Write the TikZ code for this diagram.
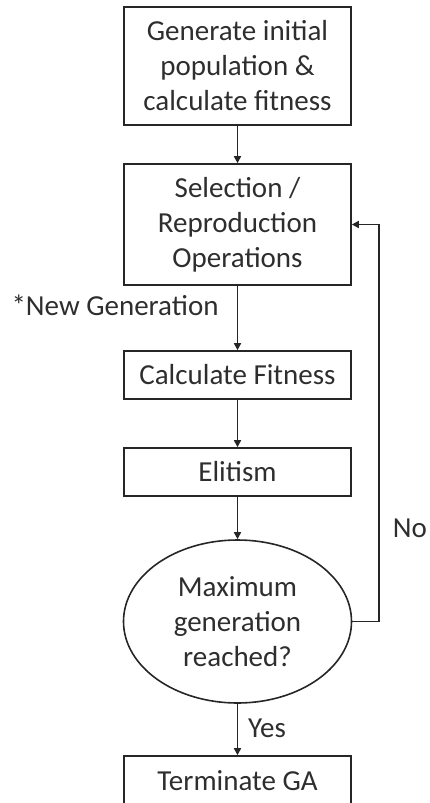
\documentclass[tikz,border=0pt]{standalone}
\usepackage{fontspec}
\setmainfont{Carlito}
\usetikzlibrary{arrows.meta,shapes.geometric}
\definecolor{txt}{HTML}{2E2E2E}
\begin{document}
\begin{tikzpicture}[x=1pt,y=-1pt,
  every node/.style={font=\fontsize{29}{35}\selectfont, text=txt},
  procbox/.style={draw=black!85, line width=1.6pt, rectangle, minimum width=227, inner sep=0pt, align=center},
  decision/.style={draw=black!85, line width=1.6pt, ellipse, minimum width=228, minimum height=163, inner sep=0pt, align=center},
  flow/.style={draw=black!85, line width=1.6pt, -{Triangle[length=7pt,width=7pt]}},
  lbl/.style={inner sep=0pt}
]
\clip (0,0) rectangle (429,803);
\node[procbox, minimum height=118] (b1) at (237.5,66) {Generate initial\\population \&\\calculate fitness};
\node[procbox, minimum height=121] (b2) at (237.5,224.5) {Selection /\\Reproduction\\Operations};
\node[procbox, minimum height=48] (cf) at (237.5,375) {Calculate Fitness};
\node[procbox, minimum height=48] (el) at (237.5,472) {Elitism};
\node[decision] (dec) at (237.5,621.5) {Maximum\\generation\\reached?};
\node[procbox, minimum height=50] (term) at (237.5,781) {Terminate GA};
\coordinate (loopx) at (379,0);
\node[lbl] (ng) at (115,305) {*New Generation};
\node[lbl] (no) at (410,528) {No};
\node[lbl] (yes) at (267,728) {Yes};
\draw[flow] (b1) -- (b2);
\draw[flow] (b2) -- (cf);
\draw[flow] (cf) -- (el);
\draw[flow] (el) -- (dec);
\draw[flow] (dec) -- (term);
\draw[flow] (dec.east) -- (dec.east -| loopx) |- (b2.east);
\end{tikzpicture}
\end{document}
